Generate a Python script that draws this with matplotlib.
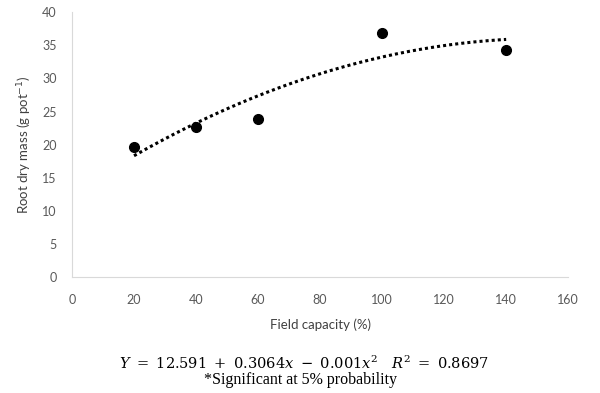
import matplotlib.pyplot as plt
import numpy as np

plt.rcParams['font.family'] = ['Lato', 'DejaVu Sans']

# Data
field_capacity = [20, 40, 60, 100, 140]
root_dry_mass = [19.7, 22.7, 23.8, 36.8, 34.3]

# Quadratic trendline coefficients (from the equation under the chart)
coef_a = 12.591
coef_b = 0.3064
coef_c = -0.001

x_ticks = [0, 20, 40, 60, 80, 100, 120, 140, 160]
y_ticks = [0, 5, 10, 15, 20, 25, 30, 35, 40]

fig = plt.figure(figsize=(6, 3.93), dpi=100)
ax = fig.add_axes([0.12, 0.295, 0.827, 0.674])

xs = np.linspace(min(field_capacity), max(field_capacity), 200)
ax.plot(xs, coef_a + coef_b * xs + coef_c * xs ** 2, color='black',
        linestyle=(0, (1, 1)), linewidth=2.2)
ax.plot(field_capacity, root_dry_mass, 'o', color='black', markersize=7)

ax.set_xlim(0, 160)
ax.set_ylim(0, 40)
ax.set_xticks(x_ticks)
ax.set_yticks(y_ticks)
ax.tick_params(length=0, labelsize=9, colors='#595959')
ax.tick_params(axis='x', pad=12)
ax.tick_params(axis='y', pad=11)
for side in ['top', 'right']:
    ax.spines[side].set_visible(False)
for side in ['left', 'bottom']:
    ax.spines[side].set_color('#d9d9d9')

ax.set_xlabel('Field capacity (%)', fontsize=9.5, color='#404040', labelpad=9)
ax.set_ylabel('Root dry mass (g pot$^{-1}$)', fontsize=9.5, color='#404040', labelpad=6)

fig.text(0.506, 0.076,
         r'$Y\ =\ 12.591\ +\ 0.3064x\ -\ 0.001x^{2}\quad R^{2}\ =\ 0.8697$',
         ha='center', va='center', fontsize=10.5, color='black',
         math_fontfamily='dejavuserif')
fig.text(0.5, 0.033, '*Significant at 5% probability', ha='center', va='center',
         fontsize=11.5, family=['Liberation Serif', 'DejaVu Serif'], color='black')

fig.savefig('out.png', dpi=100)
